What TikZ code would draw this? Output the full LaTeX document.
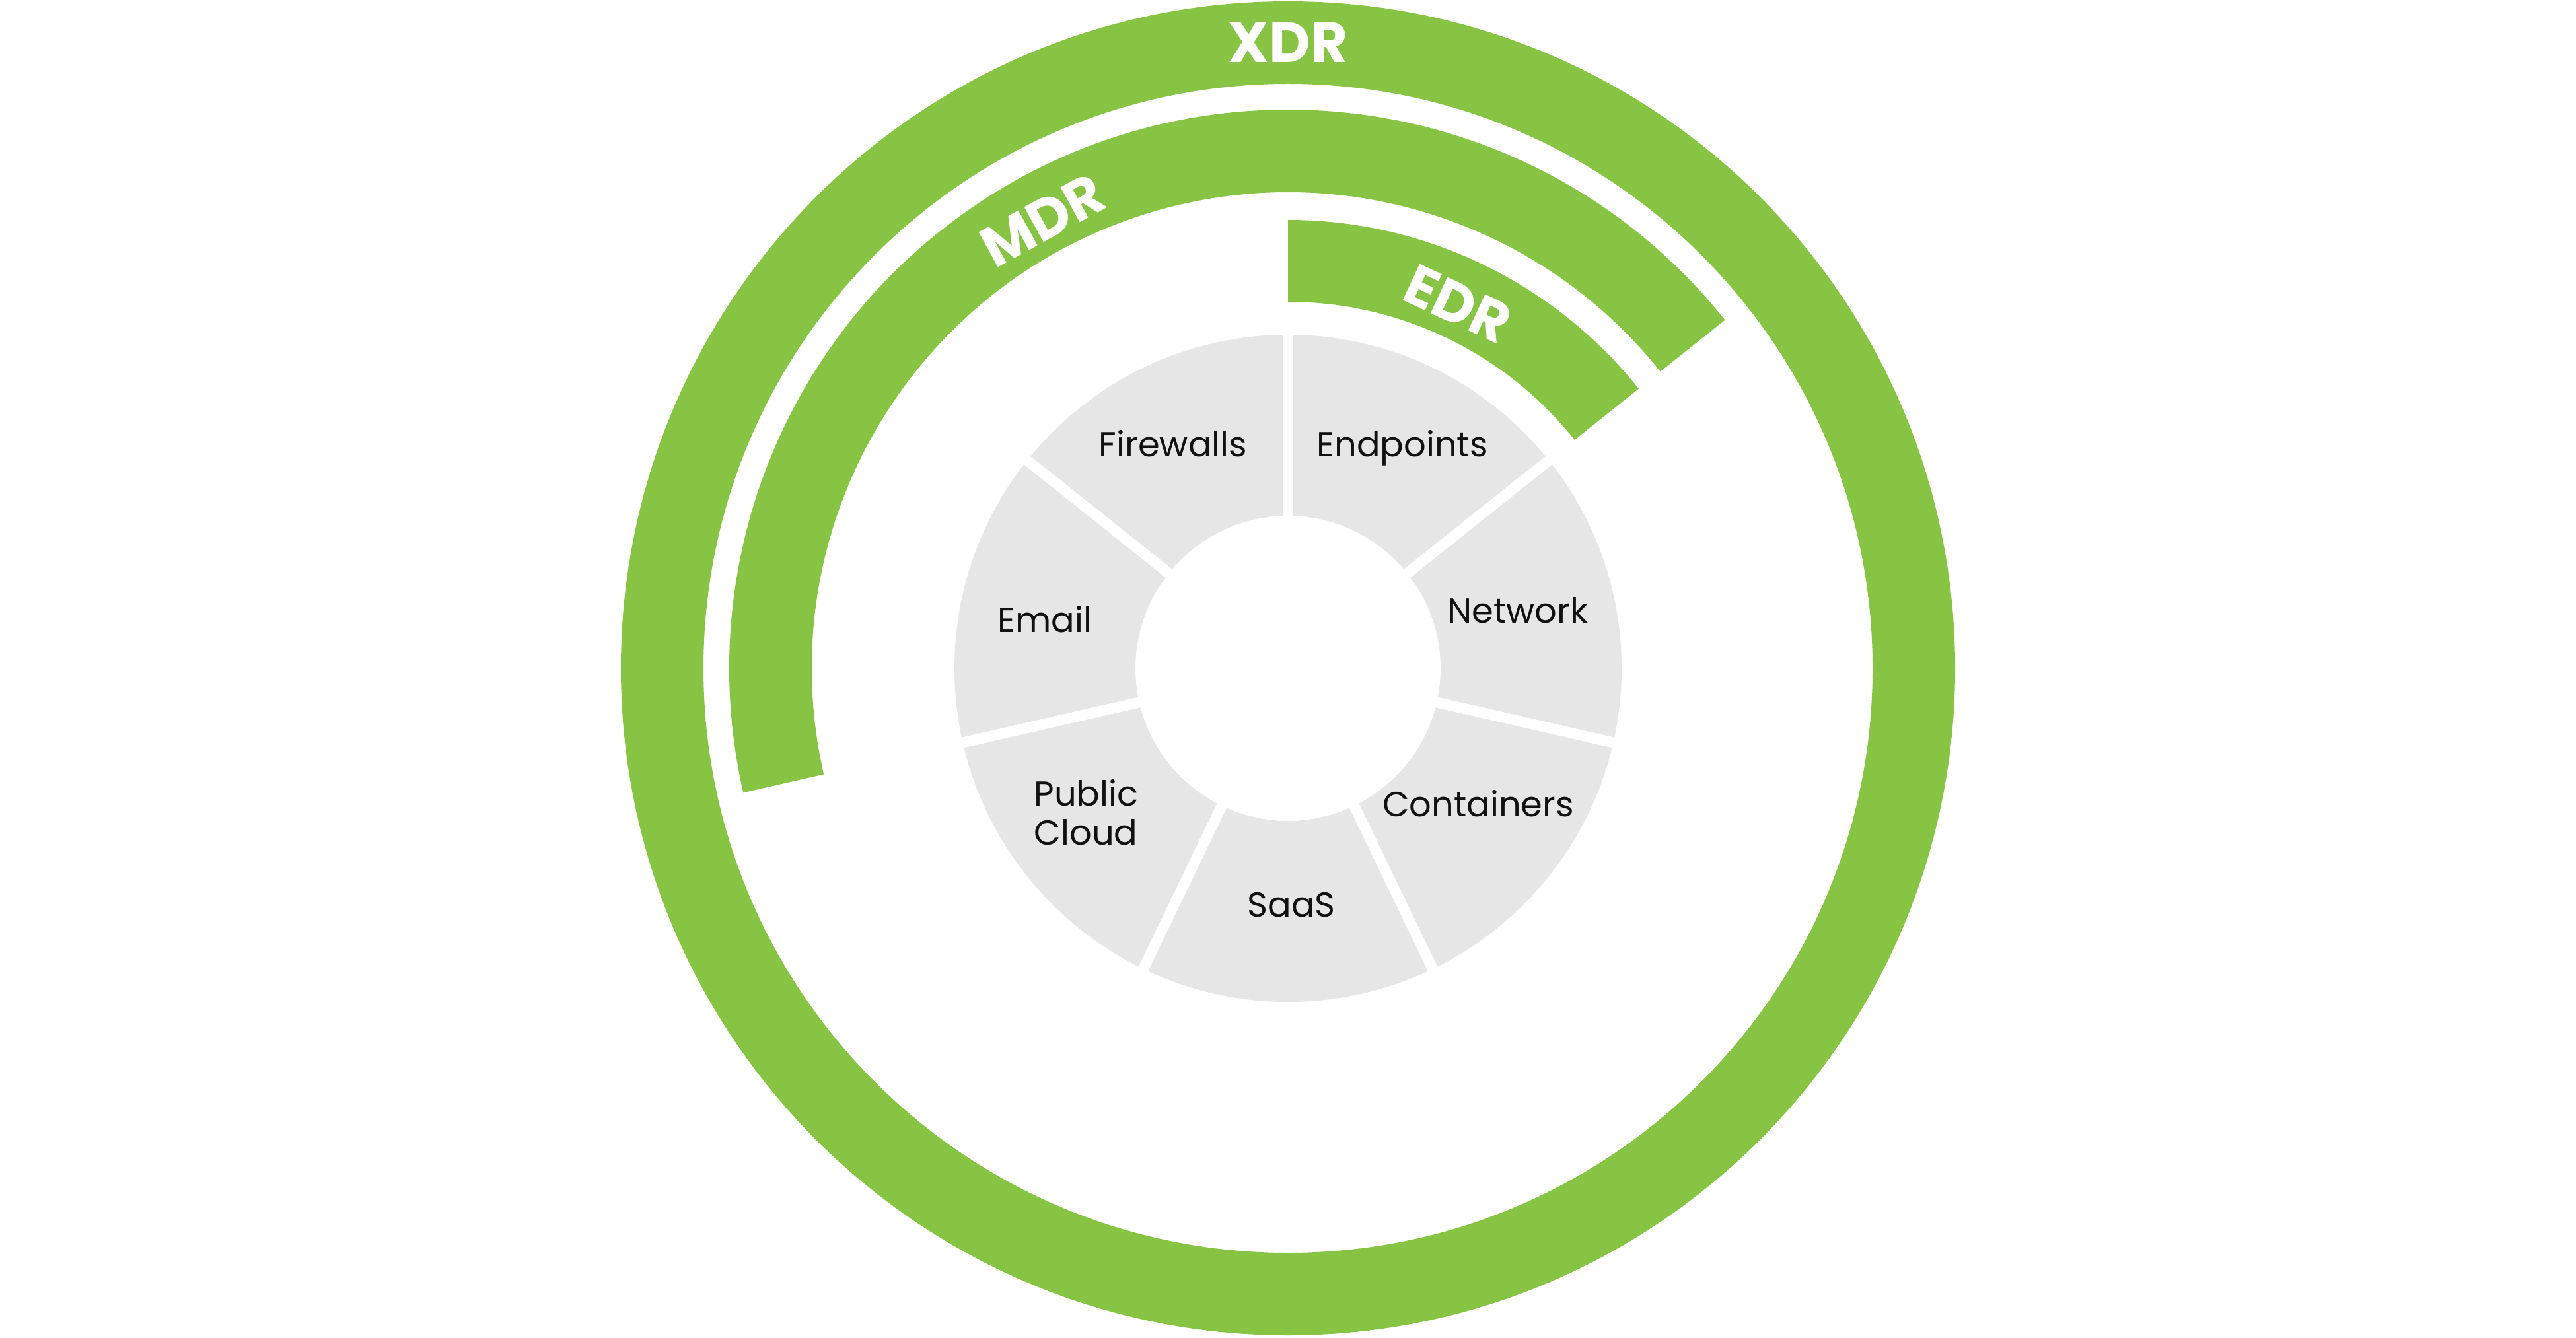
\documentclass[tikz,border=0pt]{standalone}
\usepackage{fontspec}
\setmainfont{Poppins}
\definecolor{ringgreen}{HTML}{87C443}
\definecolor{secgray}{HTML}{E6E6E6}
\definecolor{labelink}{HTML}{111111}
\begin{document}
\begin{tikzpicture}[
  ring/.style={fill=ringgreen},
  sector/.style={fill=secgray},
  gapline/.style={draw=white, line width=0.16cm},
  seclabel/.style={font=\fontsize{15}{16.8}\selectfont, text=labelink, inner sep=0pt, anchor=base},
  ringlabel/.style={font=\fontsize{24.5}{24.5}\selectfont\bfseries, text=white, inner sep=0pt, anchor=center}
]
\useasboundingbox (0,0) rectangle (39,20.25);
\begin{scope}[shift={(19.5,10.13)}]
\coordinate (c) at (0,0);
\fill[ring, even odd rule] (c) circle[radius=10.10] (c) circle[radius=8.85];
\fill[ring] (38.57:8.46) arc[start angle=38.57, end angle=192.86, radius=8.46] -- (192.86:7.21) arc[start angle=192.86, end angle=38.57, radius=7.21] -- cycle;
\fill[ring] (38.57:6.79) arc[start angle=38.57, end angle=90, radius=6.79] -- (90:5.55) arc[start angle=90, end angle=38.57, radius=5.55] -- cycle;
\fill[sector, even odd rule] (c) circle[radius=5.05] (c) circle[radius=2.31];
\foreach \a in {90,38.57,-12.86,-64.29,-115.71,-167.14,141.43} \draw[gapline] (\a:2.2) -- (\a:5.15);
\node[ringlabel] (xdr) at (90:9.48) {XDR};
\node[ringlabel, rotate=28.7] (mdr) at (118.7:7.74) {MDR};
\node[ringlabel, rotate=-25] (edr) at (65:6.09) {EDR};
\end{scope}
\node[seclabel] (firewalls) at (17.76,13.33) {Firewalls};
\node[seclabel] (endpoints) at (21.23,13.33) {Endpoints};
\node[seclabel] (email) at (15.82,10.68) {Email};
\node[seclabel] (network) at (22.98,10.82) {Network};
\node[seclabel] (containers) at (22.38,7.89) {Containers};
\node[seclabel] (saas) at (19.55,6.37) {SaaS};
\node[seclabel, anchor=west, align=left] (cloud) at (15.65,7.95) {Public\\Cloud};
\end{tikzpicture}
\end{document}
